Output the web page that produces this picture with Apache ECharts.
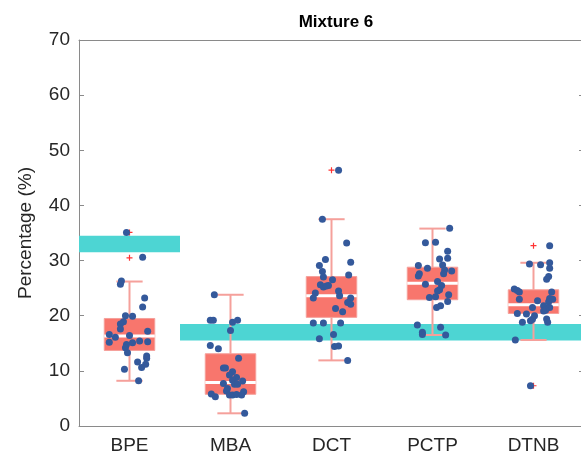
<!DOCTYPE html>
<html>
<head>
<meta charset="utf-8">
<script src="https://cdn.jsdelivr.net/npm/echarts@6/dist/echarts.min.js"></script>
<style>
  html, body { margin: 0; padding: 0; background: #fff; }
  #chart { width: 581px; height: 460px; }
</style>
</head>
<body>
<div id="chart"></div>
<script>
// categories and box statistics [low whisker, q1, median, q3, high whisker]
const categories = ['BPE', 'MBA', 'DCT', 'PCTP', 'DTNB']
const boxStats = [
  [8.2, 13.7, 16.3, 19.5, 26.2],
  [2.3, 5.75, 7.9, 13.1, 23.8],
  [11.9, 19.7, 23.6, 27.1, 37.5],
  [16.5, 22.9, 25.9, 28.8, 35.8],
  [15.6, 20.4, 22.0, 24.7, 29.6]
]
// outliers [category index, value]
const outliers = [[0, 35.1], [0, 30.5], [2, 46.4], [4, 32.7], [4, 7.3]]

// reference bands [x from, x to, y from, y to] (x in category units)
const bands = [
  [0.5, 1.5, 31.5, 34.5],
  [1.5, 5.5, 15.5, 18.5]
]

// individual measurements [jitter, value]
const bpePts = [
  [-0.03, 35.1], [0.13, 30.6], [-0.08, 26.3], [-0.09, 25.7], [0.15, 23.2], [0.13, 21.6],
  [-0.04, 20.0], [0.03, 19.9], [-0.06, 18.9], [-0.09, 18.5], [-0.09, 17.6], [0.18, 17.2],
  [-0.2, 16.6], [-0.14, 16.1], [0.0, 16.4], [-0.2, 15.2], [0.03, 15.1], [0.1, 15.4],
  [0.18, 15.3], [-0.03, 14.8], [-0.04, 14.2], [-0.02, 13.3], [0.17, 12.7], [0.17, 12.3],
  [0.08, 11.6], [0.16, 11.2], [0.12, 10.6], [-0.05, 10.3], [0.09, 8.2]
]
const mbaPts = [
  [-0.16, 23.8], [-0.2, 19.2], [-0.17, 19.2], [0.02, 18.8], [0.07, 19.2], [0.0, 17.3],
  [-0.2, 14.6], [-0.12, 14.0], [0.08, 12.3], [-0.07, 10.5], [-0.05, 10.5], [0.02, 9.85],
  [-0.01, 9.25], [0.06, 8.8], [0.02, 8.3], [0.12, 8.15], [-0.07, 7.7], [0.04, 7.55],
  [0.07, 7.55], [-0.03, 6.8], [-0.04, 6.35], [0.13, 6.2], [-0.19, 5.8], [-0.15, 5.3],
  [-0.01, 5.6], [0.02, 5.6], [0.06, 5.7], [0.11, 5.6], [0.14, 2.3]
]
const dctPts = [
  [0.07, 46.4], [-0.09, 37.5], [0.15, 33.2], [-0.06, 30.2], [0.19, 29.7], [-0.12, 29.1],
  [-0.09, 28.0], [0.17, 27.4], [-0.08, 27.0], [0.01, 26.5], [-0.11, 25.6], [-0.03, 25.5],
  [-0.08, 25.2], [-0.05, 25.4], [0.07, 24.5], [-0.16, 24.1], [0.08, 23.6], [-0.18, 23.2],
  [0.19, 23.2], [0.16, 22.4], [0.19, 22.1], [0.04, 21.3], [0.11, 20.7], [-0.18, 18.7],
  [-0.08, 18.7], [0.09, 18.7], [0.02, 16.6], [-0.12, 15.8], [0.03, 14.4], [0.07, 14.5],
  [0.16, 11.9]
]
const pctpPts = [
  [0.17, 35.85], [-0.07, 33.25], [0.03, 33.3], [0.15, 31.7], [0.15, 30.4], [0.07, 30.3],
  [0.1, 29.2], [-0.14, 29.1], [-0.05, 28.6], [0.12, 28.3], [0.19, 28.1], [-0.13, 27.6],
  [-0.14, 27.2], [0.11, 27.6], [0.05, 26.2], [-0.07, 25.7], [0.09, 25.5], [0.07, 24.7],
  [0.05, 24.5], [0.16, 23.8], [0.03, 23.45], [-0.03, 23.3], [0.15, 22.6], [0.04, 21.5],
  [0.08, 21.8], [-0.15, 18.3], [0.08, 17.9], [-0.1, 17.0], [-0.1, 16.6], [0.13, 16.5]
]
const dtnbPts = [
  [0.16, 32.7], [-0.04, 29.4], [0.07, 29.25], [0.16, 29.6], [0.16, 28.6], [0.15, 27.1],
  [0.13, 26.6], [-0.19, 24.85], [-0.16, 24.55], [-0.14, 24.3], [0.18, 24.3], [-0.14, 23.0],
  [0.04, 22.7], [0.16, 23.1], [0.19, 23.0], [0.15, 22.55], [0.1, 21.8], [-0.01, 21.5],
  [0.16, 21.5], [0.12, 21.0], [0.1, 20.85], [-0.16, 20.4], [-0.07, 20.3], [0.01, 20.0],
  [-0.01, 19.35], [-0.03, 19.1], [0.13, 19.4], [0.14, 18.8], [-0.11, 18.8], [-0.18, 15.6],
  [-0.03, 7.3]
]
const allPts = [bpePts, mbaPts, dctPts, pctpPts, dtnbPts]

const FONT = 'Liberation Sans, Arial, Helvetica, sans-serif'
const AXIS_COLOR = '#8a8a8a'
const TEXT_COLOR = '#262626'
const BOX_COLOR = '#f8766d'
const WHISKER_COLOR = '#f5a09b'

const chart = echarts.init(document.getElementById('chart'))

// scatter points placed on the hidden value x axis (category i sits at i + 1)
const scatterData = []
allPts.forEach((pts, i) => {
  pts.forEach(p => scatterData.push([i + 1 + p[0], p[1]]))
})

const renderBox = (params, api) => {
  const idx = api.value(0)
  const lo = api.coord([idx, api.value(1)])
  const q1 = api.coord([idx, api.value(2)])
  const md = api.coord([idx, api.value(3)])
  const q3 = api.coord([idx, api.value(4)])
  const hi = api.coord([idx, api.value(5)])
  const bw = api.size([1, 0])[0]
  const half = bw * 0.25
  const cap = bw * 0.13
  const x = lo[0]
  const lineStyle = { stroke: WHISKER_COLOR, lineWidth: 2 }
  return {
    type: 'group',
    children: [
      { type: 'line', shape: { x1: x, y1: hi[1], x2: x, y2: q3[1] }, style: lineStyle },
      { type: 'line', shape: { x1: x, y1: q1[1], x2: x, y2: lo[1] }, style: lineStyle },
      { type: 'line', shape: { x1: x - cap, y1: hi[1], x2: x + cap, y2: hi[1] }, style: lineStyle },
      { type: 'line', shape: { x1: x - cap, y1: lo[1], x2: x + cap, y2: lo[1] }, style: lineStyle },
      {
        type: 'rect',
        shape: { x: x - half, y: q3[1], width: half * 2, height: q1[1] - q3[1] },
        style: { fill: BOX_COLOR, stroke: WHISKER_COLOR, lineWidth: 1 }
      },
      { type: 'line', shape: { x1: x - half, y1: md[1], x2: x + half, y2: md[1] }, style: { stroke: '#fff', lineWidth: 3 } }
    ]
  }
}

const renderBand = (params, api) => {
  const p0 = api.coord([api.value(0), api.value(3)])
  const p1 = api.coord([api.value(1), api.value(2)])
  return {
    type: 'rect',
    shape: { x: p0[0], y: p0[1], width: p1[0] - p0[0], height: p1[1] - p0[1] },
    style: { fill: '#4dd5d3' }
  }
}

const option = {
  animation: false,
  backgroundColor: '#fff',
  title: {
    text: 'Mixture 6',
    left: 331,
    textAlign: 'center',
    top: 9,
    textStyle: { fontFamily: FONT, fontSize: 17, fontWeight: 'bold', color: '#000' }
  },
  grid: { left: 79, top: 40, width: 505, height: 386, outerBoundsMode: 'none' },
  xAxis: [
    {
      type: 'category',
      data: categories,
      position: 'bottom',
      axisLine: { lineStyle: { color: AXIS_COLOR, width: 1 } },
      axisTick: { inside: true, alignWithLabel: true, length: 5, lineStyle: { color: AXIS_COLOR } },
      axisLabel: { fontFamily: FONT, fontSize: 19, color: TEXT_COLOR, margin: 10 },
      splitLine: { show: false }
    },
    {
      type: 'value',
      min: 0.5,
      max: 5.5,
      show: false
    },
    {
      type: 'category',
      data: categories,
      position: 'top',
      axisLine: { lineStyle: { color: AXIS_COLOR, width: 1 } },
      axisTick: { inside: true, alignWithLabel: true, length: 5, lineStyle: { color: AXIS_COLOR } },
      axisLabel: { show: false },
      splitLine: { show: false }
    }
  ],
  yAxis: [
    {
      type: 'value',
      min: 0,
      max: 70,
      interval: 10,
      name: 'Percentage (%)',
      nameLocation: 'middle',
      nameRotate: 90,
      nameGap: 44,
      nameTextStyle: { fontFamily: FONT, fontSize: 19, color: TEXT_COLOR },
      axisLine: { show: true, lineStyle: { color: AXIS_COLOR, width: 1 } },
      axisTick: { show: true, inside: true, length: 5, lineStyle: { color: AXIS_COLOR } },
      axisLabel: { fontFamily: FONT, fontSize: 19, color: TEXT_COLOR, margin: 9 },
      splitLine: { show: false }
    },
    {
      type: 'value',
      min: 0,
      max: 70,
      interval: 10,
      position: 'right',
      axisLine: { show: true, lineStyle: { color: AXIS_COLOR, width: 1 } },
      axisTick: { show: true, inside: true, length: 5, lineStyle: { color: AXIS_COLOR } },
      axisLabel: { show: false },
      splitLine: { show: false }
    }
  ],
  series: [
    {
      type: 'custom',
      name: 'reference',
      xAxisIndex: 1,
      yAxisIndex: 0,
      z: 1,
      renderItem: renderBand,
      data: bands
    },
    {
      type: 'custom',
      name: 'box',
      xAxisIndex: 0,
      yAxisIndex: 0,
      z: 2,
      renderItem: renderBox,
      encode: { x: 0, y: [1, 2, 3, 4, 5] },
      data: boxStats.map((s, i) => [i].concat(s))
    },
    {
      type: 'scatter',
      name: 'outlier',
      xAxisIndex: 0,
      yAxisIndex: 0,
      z: 3,
      symbol: 'path://M2,0H3V2H5V3H3V5H2V3H0V2H2Z',
      symbolSize: 6,
      itemStyle: { color: '#ff0000' },
      data: outliers
    },
    {
      type: 'scatter',
      name: 'samples',
      xAxisIndex: 1,
      yAxisIndex: 0,
      z: 4,
      symbolSize: 7,
      itemStyle: { color: '#34599b', opacity: 1 },
      data: scatterData
    }
  ]
}

chart.setOption(option)
</script>
</body>
</html>
